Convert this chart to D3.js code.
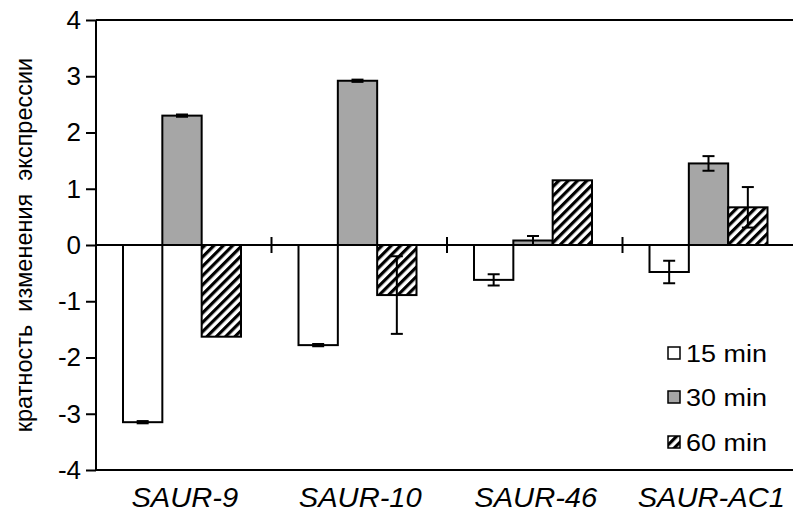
<!DOCTYPE html>
<html><head><meta charset="utf-8">
<script src="https://cdn.jsdelivr.net/npm/d3@7"></script>
<style>body{margin:0;background:#fff}svg{display:block}</style>
</head><body>
<script>
const categories = ["SAUR-9","SAUR-10","SAUR-46","SAUR-AC1"];
const series = ["15 min","30 min","60 min"];
const values15 = [-3.15,-1.78,-0.62,-0.48];
const values30 = [2.30,2.92,0.08,1.45];
const values60 = [-1.63,-0.89,1.15,0.67];
const errors15 = [0.02,0.02,0.10,0.20];
const errors30 = [0.02,0.02,0.08,0.13];
const errors60 = [0.00,0.69,0.00,0.36];
const yTicks = [-4,-3,-2,-1,0,1,2,3,4];
const yLabel = "кратность  изменения  экспрессии";

const W=793,H=522;
const svg=d3.select("body").append("svg").attr("width",W).attr("height",H);
const defs=svg.append("defs");
const pat=defs.append("pattern").attr("id","hatch").attr("patternUnits","userSpaceOnUse")
  .attr("width",6.6).attr("height",6.6).attr("patternTransform","rotate(45)");
pat.append("rect").attr("width",6.6).attr("height",6.6).attr("fill","#fff");
pat.append("line").attr("x1",1.6).attr("y1",0).attr("x2",1.6).attr("y2",6.6).attr("stroke","#000").attr("stroke-width",3.2);

const fills=["#ffffff","#a6a6a6","url(#hatch)"];
const vals=[values15,values30,values60];
const errs=[errors15,errors30,errors60];

const x0=96, catW=175.5;
const x=d3.scaleBand().domain(categories).range([x0,x0+catW*4]).padding(0);
const xs=d3.scaleBand().domain(series).range([27,27+118]).padding(0);
const y=d3.scaleLinear().domain([-4,4]).range([470,20]);

const font="'Liberation Sans', Arial, sans-serif";

// bars
const data=[];
categories.forEach((c,i)=>series.forEach((s,j)=>data.push({c,s,j,v:vals[j][i],e:errs[j][i]})));
svg.append("g").selectAll("rect").data(data).join("rect")
  .attr("x",d=>x(d.c)+xs(d.s)).attr("width",xs.bandwidth())
  .attr("y",d=>y(Math.max(0,d.v))).attr("height",d=>Math.abs(y(d.v)-y(0)))
  .attr("fill",d=>fills[d.j]).attr("stroke","#000").attr("stroke-width",2);

// error bars
const eg=svg.append("g").attr("stroke","#000").attr("stroke-width",2);
data.filter(d=>d.e>0).forEach(d=>{
  const cx=x(d.c)+xs(d.s)+xs.bandwidth()/2;
  eg.append("line").attr("x1",cx).attr("x2",cx).attr("y1",y(d.v-d.e)).attr("y2",y(d.v+d.e));
  [d.v-d.e,d.v+d.e].forEach(v=>eg.append("line").attr("x1",cx-6).attr("x2",cx+6).attr("y1",y(v)).attr("y2",y(v)));
});

// y axis
const ya=svg.append("g").attr("transform",`translate(${x0},0)`)
  .call(d3.axisLeft(y).tickValues(yTicks).tickSize(10).tickPadding(5).tickFormat(d=>String(d)));
ya.select(".domain").attr("stroke-width",2).attr("d",`M-0,${y(4)}V${y(-4)}`);
ya.selectAll(".tick line").attr("stroke-width",2);
ya.selectAll("text").attr("font-family",font).attr("font-size",26).attr("fill","#000");

// horizontal lines at 4, 0, -4
[4,0,-4].forEach(v=>svg.append("line").attr("x1",x0).attr("x2",W).attr("y1",y(v)).attr("y2",y(v))
  .attr("stroke","#000").attr("stroke-width",2));

// category separators on zero line
categories.slice(1).forEach(c=>svg.append("line").attr("x1",x(c)).attr("x2",x(c))
  .attr("y1",y(0)-8).attr("y2",y(0)+8).attr("stroke","#000").attr("stroke-width",2));

// category labels
svg.append("g").selectAll("text").data(categories).join("text")
  .attr("transform",d=>`translate(${x(d)+catW/2+1},507) scale(1.04,1)`).attr("text-anchor","middle")
  .attr("font-family",font).attr("font-style","italic").attr("font-size",28).attr("fill","#000")
  .text(d=>d);

// y label
svg.append("text").attr("transform",`translate(32,${(y(4)+y(-4))/2}) rotate(-90)`)
  .attr("text-anchor","middle").attr("font-family",font).attr("font-size",23.5).attr("fill","#000")
  .style("white-space","pre").text(yLabel);

// legend
const lg=svg.append("g");
const ly=[353,397,442];
series.forEach((s,j)=>{
  lg.append("rect").attr("x",668).attr("y",ly[j]-6).attr("width",12).attr("height",12)
    .attr("fill",fills[j]).attr("stroke","#000").attr("stroke-width",1.5);
  lg.append("text").attr("transform",`translate(686,${ly[j]+9}) scale(1.1,1)`).attr("font-family",font).attr("font-size",24.5)
    .attr("fill","#000").text(s);
});
</script>
</body></html>
